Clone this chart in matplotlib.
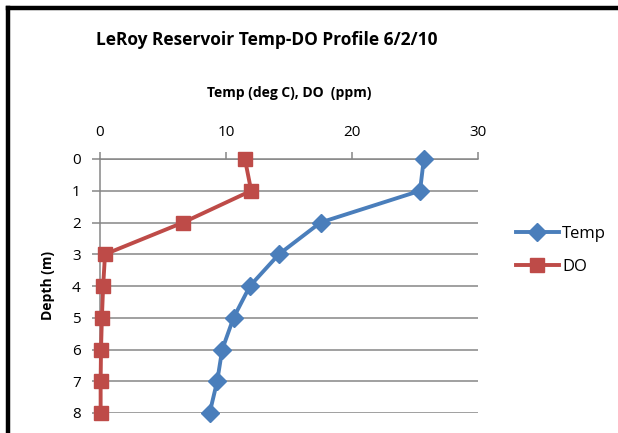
import matplotlib.pyplot as plt
from matplotlib.lines import Line2D

depth = [0, 1, 2, 3, 4, 5, 6, 7, 8]
temp = [25.7, 25.4, 17.5, 14.2, 11.9, 10.6, 9.7, 9.3, 8.7]
do = [11.5, 12.0, 6.6, 0.4, 0.25, 0.15, 0.08, 0.05, 0.05]
x_ticks = [0, 10, 20, 30]

plt.rcParams['font.family'] = ['Open Sans', 'DejaVu Sans']

fig = plt.figure(figsize=(6.18, 4.33), dpi=100)
ax = fig.add_axes([100 / 618, 1 - 413 / 433, 378 / 618, 254 / 433])

grid_c = '#868686'
ax.plot(temp, depth, color='#4A7EBB', lw=2.8, marker='D', ms=9, label='Temp',
        zorder=3, clip_on=False)
ax.plot(do, depth, color='#BE4B48', lw=2.8, marker='s', ms=9.5, label='DO',
        zorder=3, clip_on=False)

ax.set_xlim(0, 30)
ax.set_ylim(8, 0)
ax.set_xticks(x_ticks)
ax.set_yticks(depth)
ax.xaxis.tick_top()
ax.xaxis.set_label_position('top')
ax.tick_params(axis='x', direction='out', length=5, width=1.1, color=grid_c,
               labelsize=11, pad=9)
ax.tick_params(axis='y', direction='out', length=6, width=1.1, color=grid_c,
               labelsize=11, pad=8)
ax.yaxis.grid(True, color=grid_c, lw=1.1)
for s in ['right', 'bottom']:
    ax.spines[s].set_visible(False)
for s in ['top', 'left']:
    ax.spines[s].set_color(grid_c)
    ax.spines[s].set_linewidth(1.1)

ax.set_xlabel('Temp (deg C), DO  (ppm)', fontsize=10, fontweight='bold', labelpad=20)
ax.set_ylabel('Depth (m)', fontsize=10, fontweight='bold', labelpad=12)

fig.text(267 / 618, 1 - 40 / 433, 'LeRoy Reservoir Temp-DO Profile 6/2/10',
         ha='center', va='center', fontsize=12.5, fontweight='bold')

ax.legend(loc='center left', bbox_to_anchor=(1.06, 0.64), frameon=False,
          fontsize=12, handlelength=2.6, labelspacing=1.05, handletextpad=0.2)

# chart border (cropped)
fig.add_artist(Line2D([8 / 618, 1.0], [1 - 8 / 433, 1 - 8 / 433], color='black', lw=3.2,
                      transform=fig.transFigure))
fig.add_artist(Line2D([8 / 618, 8 / 618], [0, 1 - 8 / 433], color='black', lw=3.2,
                      transform=fig.transFigure))

fig.savefig('out.png', dpi=100)
